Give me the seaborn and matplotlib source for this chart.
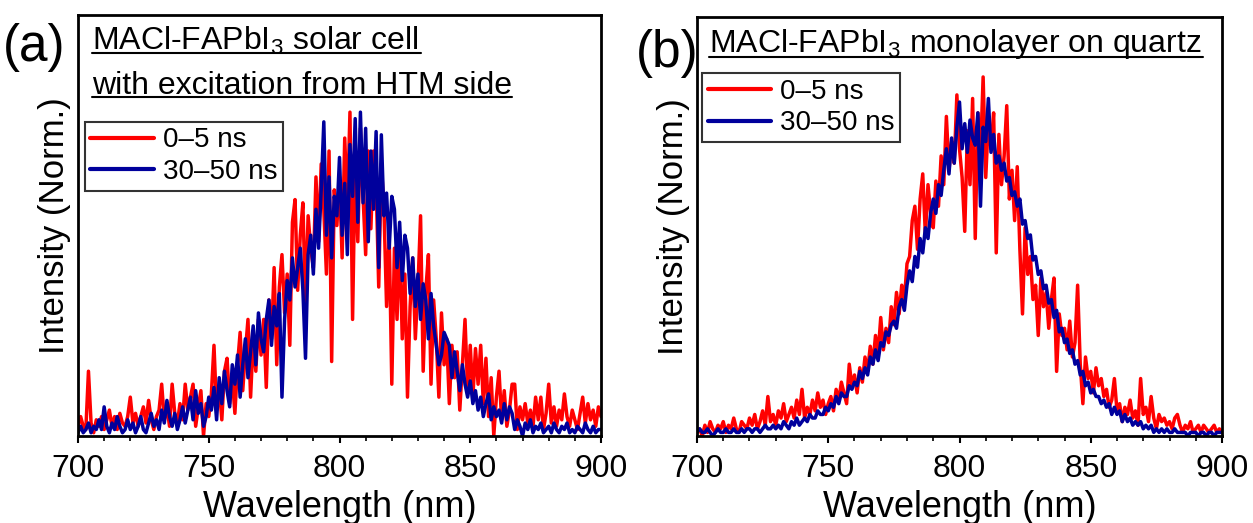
import matplotlib
matplotlib.use("Agg")
import numpy as np
import pandas as pd
import seaborn as sns
import matplotlib.pyplot as plt
from matplotlib.lines import Line2D
from matplotlib.ticker import MultipleLocator

# ---------------- data ----------------
wavelength = list(range(700, 901))

# panel (a): solar cell, excitation from HTM side
a_early = [
    0.03, 0.06, 0.03, 0.02, 0.20, 0.04, 0.01, 0.05, 0.03, 0.06,
    0.02, 0.05, 0.08, 0.03, 0.06, 0.02, 0.07, 0.04, 0.03, 0.06,
    0.12, 0.04, 0.07, 0.03, 0.06, 0.09, 0.04, 0.11, 0.05, 0.02,
    0.06, 0.08, 0.16, 0.05, 0.09, 0.03, 0.16, 0.07, 0.04, 0.10,
    0.05, 0.16, 0.08, 0.12, 0.16, 0.03, 0.09, 0.14, 0.00, 0.10,
    0.06, 0.13, 0.28, 0.08, 0.15, 0.05, 0.20, 0.24, 0.10, 0.18,
    0.07, 0.22, 0.32, 0.14, 0.26, 0.36, 0.12, 0.30, 0.20, 0.36,
    0.25, 0.36, 0.15, 0.42, 0.30, 0.52, 0.22, 0.46, 0.56, 0.38,
    0.50, 0.28, 0.66, 0.73, 0.45, 0.62, 0.72, 0.40, 0.68, 0.58,
    0.52, 0.80, 0.60, 0.84, 0.70, 0.50, 0.88, 0.23, 0.76, 0.65,
    0.80, 0.55, 0.92, 0.70, 1.00, 0.36, 0.85, 0.60, 0.95, 0.74,
    0.56, 0.88, 0.64, 0.88, 0.78, 0.46, 0.84, 0.70, 0.40, 0.62,
    0.16, 0.58, 0.36, 0.62, 0.30, 0.50, 0.12, 0.40, 0.55, 0.30,
    0.46, 0.68, 0.20, 0.45, 0.56, 0.16, 0.42, 0.30, 0.12, 0.38,
    0.22, 0.30, 0.10, 0.28, 0.18, 0.26, 0.08, 0.22, 0.36, 0.14,
    0.28, 0.12, 0.27, 0.16, 0.28, 0.10, 0.24, 0.06, 0.18, 0.00,
    0.12, 0.20, 0.05, 0.14, 0.03, 0.08, 0.16, 0.16, 0.02, 0.09,
    0.05, 0.10, 0.04, 0.08, 0.03, 0.12, 0.05, 0.12, 0.02, 0.07,
    0.16, 0.04, 0.09, 0.03, 0.08, 0.05, 0.13, 0.06, 0.03, 0.08,
    0.05, 0.02, 0.07, 0.12, 0.04, 0.10, 0.05, 0.08, 0.03, 0.09,
    0.06,
]
a_late = [
    0.01, 0.03, 0.01, 0.02, 0.04, 0.01, 0.03, 0.02, 0.05, 0.02,
    0.09, 0.03, 0.01, 0.04, 0.02, 0.06, 0.03, 0.01, 0.02, 0.05,
    0.02, 0.04, 0.01, 0.03, 0.06, 0.02, 0.01, 0.04, 0.07, 0.03,
    0.05, 0.02, 0.08, 0.04, 0.11, 0.06, 0.03, 0.07, 0.02, 0.05,
    0.09, 0.04, 0.08, 0.12, 0.05, 0.14, 0.07, 0.10, 0.03, 0.06,
    0.12, 0.08, 0.15, 0.05, 0.18, 0.10, 0.20, 0.14, 0.09, 0.22,
    0.16, 0.25, 0.12, 0.22, 0.30, 0.18, 0.26, 0.34, 0.22, 0.38,
    0.30, 0.26, 0.36, 0.42, 0.28, 0.40, 0.34, 0.44, 0.12, 0.36,
    0.48, 0.42, 0.55, 0.46, 0.52, 0.58, 0.45, 0.24, 0.56, 0.62,
    0.50, 0.70, 0.58, 0.76, 0.97, 0.62, 0.80, 0.55, 0.74, 0.68,
    0.86, 0.62, 0.78, 0.56, 0.90, 0.74, 0.98, 0.66, 1.00, 0.72,
    0.95, 0.60, 0.88, 0.70, 0.94, 0.52, 0.93, 0.68, 0.75, 0.58,
    0.74, 0.70, 0.52, 0.66, 0.48, 0.62, 0.58, 0.44, 0.55, 0.40,
    0.50, 0.36, 0.47, 0.42, 0.30, 0.44, 0.34, 0.28, 0.22, 0.25,
    0.32, 0.30, 0.28, 0.18, 0.26, 0.20, 0.14, 0.22, 0.16, 0.12,
    0.17, 0.10, 0.14, 0.08, 0.12, 0.06, 0.10, 0.13, 0.05, 0.09,
    0.06, 0.08, 0.04, 0.10, 0.05, 0.09, 0.07, 0.02, 0.05, 0.03,
    0.00, 0.04, 0.02, 0.05, 0.01, 0.03, 0.02, 0.04, 0.01, 0.02,
    0.03, 0.01, 0.04, 0.02, 0.01, 0.03, 0.02, 0.04, 0.01, 0.02,
    0.01, 0.03, 0.02, 0.01, 0.04, 0.02, 0.01, 0.03, 0.01, 0.02,
    0.02,
]

# panel (b): monolayer on quartz
b_early = [
    0.01, 0.02, 0.00, 0.03, 0.01, 0.04, 0.02, 0.01, 0.03, 0.02,
    0.04, 0.01, 0.03, 0.02, 0.05, 0.02, 0.01, 0.04, 0.03, 0.02,
    0.05, 0.03, 0.06, 0.02, 0.04, 0.07, 0.03, 0.11, 0.04, 0.06,
    0.03, 0.07, 0.05, 0.09, 0.04, 0.06, 0.08, 0.05, 0.10, 0.06,
    0.13, 0.05, 0.08, 0.06, 0.10, 0.07, 0.12, 0.08, 0.10, 0.06,
    0.09, 0.11, 0.07, 0.13, 0.10, 0.15, 0.12, 0.09, 0.20, 0.14,
    0.17, 0.12, 0.19, 0.15, 0.22, 0.18, 0.25, 0.20, 0.28, 0.23,
    0.33, 0.24, 0.30, 0.26, 0.36, 0.31, 0.40, 0.34, 0.42, 0.38,
    0.48, 0.50, 0.60, 0.64, 0.52, 0.66, 0.73, 0.56, 0.70, 0.62,
    0.58, 0.71, 0.64, 0.78, 0.70, 0.89, 0.74, 0.82, 0.76, 0.95,
    0.80, 0.72, 0.57, 0.85, 0.70, 0.94, 0.55, 0.90, 0.78, 1.00,
    0.72, 0.88, 0.80, 0.90, 0.51, 0.84, 0.70, 0.78, 0.92, 0.66,
    0.74, 0.60, 0.75, 0.52, 0.34, 0.58, 0.45, 0.50, 0.38, 0.42,
    0.28, 0.44, 0.36, 0.40, 0.30, 0.38, 0.44, 0.18, 0.34, 0.28,
    0.30, 0.24, 0.32, 0.22, 0.26, 0.42, 0.20, 0.09, 0.22, 0.16,
    0.18, 0.12, 0.19, 0.14, 0.16, 0.11, 0.13, 0.08, 0.10, 0.16,
    0.07, 0.09, 0.04, 0.08, 0.06, 0.10, 0.05, 0.07, 0.03, 0.16,
    0.06, 0.08, 0.04, 0.11, 0.05, 0.02, 0.06, 0.04, 0.05, 0.03,
    0.04, 0.02, 0.05, 0.06, 0.03, 0.01, 0.03, 0.02, 0.04, 0.01,
    0.02, 0.03, 0.01, 0.03, 0.02, 0.01, 0.02, 0.03, 0.01, 0.02,
    0.01,
]
b_late = [
    0.01, 0.02, 0.01, 0.01, 0.02, 0.01, 0.00, 0.01, 0.02, 0.01,
    0.01, 0.02, 0.01, 0.01, 0.02, 0.01, 0.01, 0.02, 0.01, 0.02,
    0.02, 0.01, 0.02, 0.02, 0.01, 0.02, 0.03, 0.02, 0.02, 0.03,
    0.02, 0.03, 0.02, 0.04, 0.03, 0.02, 0.04, 0.03, 0.05, 0.03,
    0.04, 0.05, 0.04, 0.06, 0.05, 0.05, 0.07, 0.06, 0.06, 0.08,
    0.07, 0.09, 0.08, 0.11, 0.09, 0.12, 0.11, 0.11, 0.14, 0.13,
    0.15, 0.14, 0.18, 0.16, 0.19, 0.17, 0.22, 0.20, 0.24, 0.21,
    0.26, 0.25, 0.29, 0.28, 0.31, 0.32, 0.30, 0.36, 0.38, 0.35,
    0.42, 0.46, 0.43, 0.50, 0.47, 0.55, 0.51, 0.58, 0.55, 0.62,
    0.66, 0.62, 0.70, 0.67, 0.74, 0.80, 0.73, 0.83, 0.76, 0.86,
    0.93, 0.80, 0.87, 0.79, 0.88, 0.83, 0.81, 0.90, 0.64, 0.86,
    0.82, 0.94, 0.79, 0.84, 0.76, 0.78, 0.74, 0.76, 0.71, 0.72,
    0.67, 0.68, 0.64, 0.66, 0.59, 0.60, 0.55, 0.56, 0.49, 0.50,
    0.45, 0.46, 0.41, 0.42, 0.37, 0.38, 0.33, 0.35, 0.29, 0.30,
    0.26, 0.27, 0.23, 0.24, 0.20, 0.21, 0.17, 0.18, 0.14, 0.15,
    0.12, 0.13, 0.11, 0.11, 0.09, 0.10, 0.08, 0.09, 0.06, 0.08,
    0.06, 0.07, 0.04, 0.06, 0.04, 0.05, 0.03, 0.04, 0.03, 0.04,
    0.02, 0.03, 0.02, 0.03, 0.01, 0.02, 0.01, 0.02, 0.01, 0.02,
    0.01, 0.01, 0.02, 0.01, 0.01, 0.01, 0.01, 0.00, 0.01, 0.01,
    0.01, 0.00, 0.01, 0.01, 0.00, 0.01, 0.01, 0.00, 0.01, 0.01,
    0.01,
]

series_labels = ["0\u20135 ns", "30\u201350 ns"]
panel_tags = ["(a)", "(b)"]
title_a = ["MACl-FAPbI$_3$ solar cell ", "with excitation from HTM side"]
title_b = ["MACl-FAPbI$_3$ monolayer on quartz "]
xlabel = "Wavelength (nm)"
ylabel = "Intensity (Norm.)"
xticks = [700, 750, 800, 850, 900]

# ---------------- style ----------------
sns.set_theme(style="white")
plt.rcParams["font.family"] = ["Liberation Sans", "DejaVu Sans"]
plt.rcParams["mathtext.fontset"] = "custom"
plt.rcParams["mathtext.rm"] = "Liberation Sans"
plt.rcParams["mathtext.it"] = "Liberation Sans:italic"
plt.rcParams["mathtext.default"] = "regular"
for k in ["text.color", "axes.labelcolor", "xtick.color", "ytick.color", "axes.edgecolor"]:
    plt.rcParams[k] = "black"

RED = "#FF0000"
BLUE = "#00009C"
W, H = 1253, 523

fig = plt.figure(figsize=(W / 100, H / 100), dpi=100)
axA = fig.add_axes([78 / W, 1 - 436 / H, 523 / W, 421 / H])
axB = fig.add_axes([697 / W, 1 - 436 / H, 525 / W, 419 / H])

dfA = pd.DataFrame({"wl": wavelength, "early": a_early, "late": a_late})
dfB = pd.DataFrame({"wl": wavelength, "early": b_early, "late": b_late})

for ax, df, ytop in [(axA, dfA, 1.30), (axB, dfB, 1.167)]:
    sns.lineplot(data=df, x="wl", y="early", ax=ax, color=RED, lw=2.5,
                 label=series_labels[0], estimator=None, sort=False)
    sns.lineplot(data=df, x="wl", y="late", ax=ax, color=BLUE, lw=2.5,
                 label=series_labels[1], estimator=None, sort=False)
    ax.set_xlim(700, 900)
    ax.set_ylim(0, ytop)
    ax.set_yticks([])
    ax.set_xticks(xticks)
    ax.xaxis.set_minor_locator(MultipleLocator(10))
    ax.tick_params(axis="x", which="major", direction="out", length=5, width=1.5,
                   labelsize=23, pad=8, bottom=True, colors="black")
    ax.tick_params(axis="x", which="minor", direction="out", length=3.5, width=1.2,
                   bottom=True)
    ax.set_xlabel(xlabel, fontsize=26, labelpad=4)
    ax.set_ylabel(ylabel, fontsize=25, labelpad=5)
    for sp in ax.spines.values():
        sp.set_visible(True)
        sp.set_color("black")
        sp.set_linewidth(2.0)

legA = axA.legend(loc="upper left", bbox_to_anchor=(0.013, 0.746), borderaxespad=0,
                  fontsize=20, frameon=True, fancybox=False, handlelength=2.3,
                  handletextpad=0.3, labelspacing=0.2, borderpad=0.2)
legB = axB.legend(loc="upper left", bbox_to_anchor=(0.0095, 0.866), borderaxespad=0,
                  fontsize=20, frameon=True, fancybox=False, handlelength=2.3,
                  handletextpad=0.3, labelspacing=0.2, borderpad=0.2)
for leg in (legA, legB):
    fr = leg.get_frame()
    fr.set_edgecolor("black")
    fr.set_linewidth(1.5)
    for ln in leg.get_lines():
        ln.set_linewidth(3.0)

# panel tags
fig.text(3 / W, 1 - 47 / H, panel_tags[0], fontsize=37, ha="left", va="center")
fig.text(636 / W, 1 - 54 / H, panel_tags[1], fontsize=37, ha="left", va="center")

# underlined titles
def underlined(x_px, base_px, text, under_px):
    t = fig.text(x_px / W, 1 - base_px / H, text, fontsize=23, ha="left", va="baseline")
    fig.canvas.draw()
    bb = t.get_window_extent()
    fig.add_artist(Line2D([bb.x0 / W, bb.x1 / W], [1 - under_px / H, 1 - under_px / H],
                          transform=fig.transFigure, color="black", lw=1.5))

underlined(92, 50, title_a[0], 53)
underlined(92, 94, title_a[1], 97)
underlined(709, 52, title_b[0], 57)

fig.savefig("out.png", dpi=100)
